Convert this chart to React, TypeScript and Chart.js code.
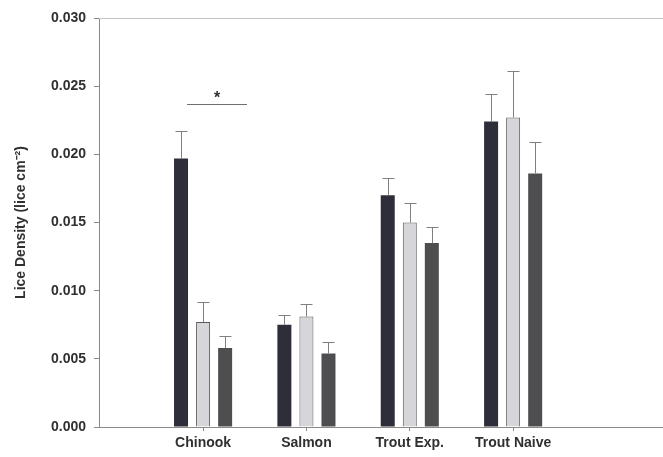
import React, { useEffect, useRef } from "react";
import { Chart, registerables } from "chart.js";

Chart.register(...registerables);

const categories = ["Chinook", "Salmon", "Trout Exp.", "Trout Naive"];
const categoryPositions = [1, 2, 3, 4];
const seriesA = [0.0197, 0.0075, 0.0170, 0.0224];
const seriesAErr = [0.0217, 0.0082, 0.0183, 0.0244];
const seriesB = [0.0077, 0.0081, 0.0150, 0.0227];
const seriesBErr = [0.0092, 0.0090, 0.0164, 0.0261];
const seriesC = [0.0058, 0.0054, 0.0135, 0.0186];
const seriesCErr = [0.0067, 0.0062, 0.0147, 0.0209];
const yTicks = [0, 0.005, 0.01, 0.015, 0.02, 0.025, 0.03];

// significance annotation (data units)
const sigLine = { x1: 0.845, x2: 1.425, y: 0.0237 };
const sigStar = { x: 1.135, y: 0.02435, text: "*" };

const FONT = "'Liberation Sans', Arial, sans-serif";
const TEXT = "#303030";

export default function App() {
  const ref = useRef<HTMLCanvasElement | null>(null);

  useEffect(() => {
    document.body.style.margin = "0";
    const canvas = ref.current!;
    const mk = (vals: number[]) => vals.map((v, i) => ({ x: categoryPositions[i], y: v }));
    const errs = [seriesAErr, seriesBErr, seriesCErr];

    const overlay = {
      id: "overlay",
      afterDatasetsDraw(chart: any) {
        const ctx = chart.ctx;
        const xs = chart.scales.x;
        const ys = chart.scales.y;
        const area = chart.chartArea;
        ctx.save();
        // faint top frame line
        ctx.strokeStyle = "#c4c4c4";
        ctx.lineWidth = 1;
        ctx.beginPath();
        ctx.moveTo(area.left, Math.round(area.top) + 0.5);
        ctx.lineTo(area.right, Math.round(area.top) + 0.5);
        ctx.stroke();
        // error bars
        ctx.strokeStyle = "#808080";
        ctx.lineWidth = 1;
        chart.data.datasets.forEach((ds: any, di: number) => {
          const meta = chart.getDatasetMeta(di);
          meta.data.forEach((bar: any, i: number) => {
            const x = Math.round(bar.x) + 0.5;
            const yTop = Math.round(ys.getPixelForValue(errs[di][i])) + 0.5;
            ctx.beginPath();
            ctx.moveTo(x, bar.y);
            ctx.lineTo(x, yTop);
            ctx.moveTo(x - 6, yTop);
            ctx.lineTo(x + 6, yTop);
            ctx.stroke();
          });
        });
        // significance line
        ctx.strokeStyle = "#707070";
        const sy = Math.round(ys.getPixelForValue(sigLine.y)) + 0.5;
        ctx.beginPath();
        ctx.moveTo(xs.getPixelForValue(sigLine.x1), sy);
        ctx.lineTo(xs.getPixelForValue(sigLine.x2), sy);
        ctx.stroke();
        ctx.fillStyle = TEXT;
        ctx.font = `bold 16px ${FONT}`;
        ctx.textAlign = "center";
        ctx.textBaseline = "middle";
        ctx.fillText(sigStar.text, xs.getPixelForValue(sigStar.x), ys.getPixelForValue(sigStar.y) + 4);
        ctx.restore();
      },
    };

    const chart = new Chart(canvas, {
      type: "bar",
      data: {
        datasets: [
          { label: "A", data: mk(seriesA), backgroundColor: "#2e2e3a", borderWidth: 0 },
          { label: "B", data: mk(seriesB), backgroundColor: "#d6d6da", borderColor: "#5a5a5a", borderWidth: 1 },
          { label: "C", data: mk(seriesC), backgroundColor: "#4e4e50", borderWidth: 0 },
        ],
      },
      options: {
        responsive: false,
        animation: false,
        devicePixelRatio: 1,
        layout: { padding: { top: 18, right: 0, left: 0, bottom: 0 } },
        datasets: { bar: { categoryPercentage: 0.64, barPercentage: 0.635 } },
        plugins: { legend: { display: false }, tooltip: { enabled: false } },
        scales: {
          x: {
            type: "linear",
            min: -0.007,
            max: 5.45,
            offset: false,
            afterBuildTicks: (scale: any) => {
              scale.ticks = categoryPositions.map((v) => ({ value: v }));
            },
            afterFit: (scale: any) => {
              scale.height = 30;
            },
            ticks: {
              autoSkip: false,
              maxRotation: 0,
              padding: 4,
              color: TEXT,
              font: { family: FONT, size: 14, weight: "bold" },
              callback: (v: any) => {
                const idx = categoryPositions.indexOf(Number(v));
                return idx >= 0 ? categories[idx] : "";
              },
            },
            grid: { drawOnChartArea: false, drawTicks: true, tickLength: 4, color: "#888", offset: false },
            border: { display: true, color: "#8a8a8a", width: 1 },
          },
          y: {
            min: 0,
            max: 0.03,
            afterBuildTicks: (scale: any) => {
              scale.ticks = yTicks.map((v) => ({ value: v }));
            },
            afterFit: (scale: any) => {
              scale.width = 99;
            },
            ticks: {
              padding: 8,
              color: TEXT,
              font: { family: FONT, size: 14, weight: "bold" },
              callback: (v: any) => Number(v).toFixed(3),
            },
            grid: { drawOnChartArea: false, drawTicks: true, tickLength: 5, color: "#888", offset: false },
            border: { display: true, color: "#8a8a8a", width: 1 },
            title: {
              display: true,
              text: "Lice Density (lice cm\u207B\u00B2)",
              color: TEXT,
              font: { family: FONT, size: 14, weight: "bold" },
              padding: { top: 13, bottom: 4 },
            },
          },
        },
      },
      plugins: [overlay],
    });
    return () => chart.destroy();
  }, []);

  return (
    <div style={{ width: 663, height: 457 }}>
      <canvas ref={ref} width={663} height={457} style={{ display: "block" }} />
    </div>
  );
}
